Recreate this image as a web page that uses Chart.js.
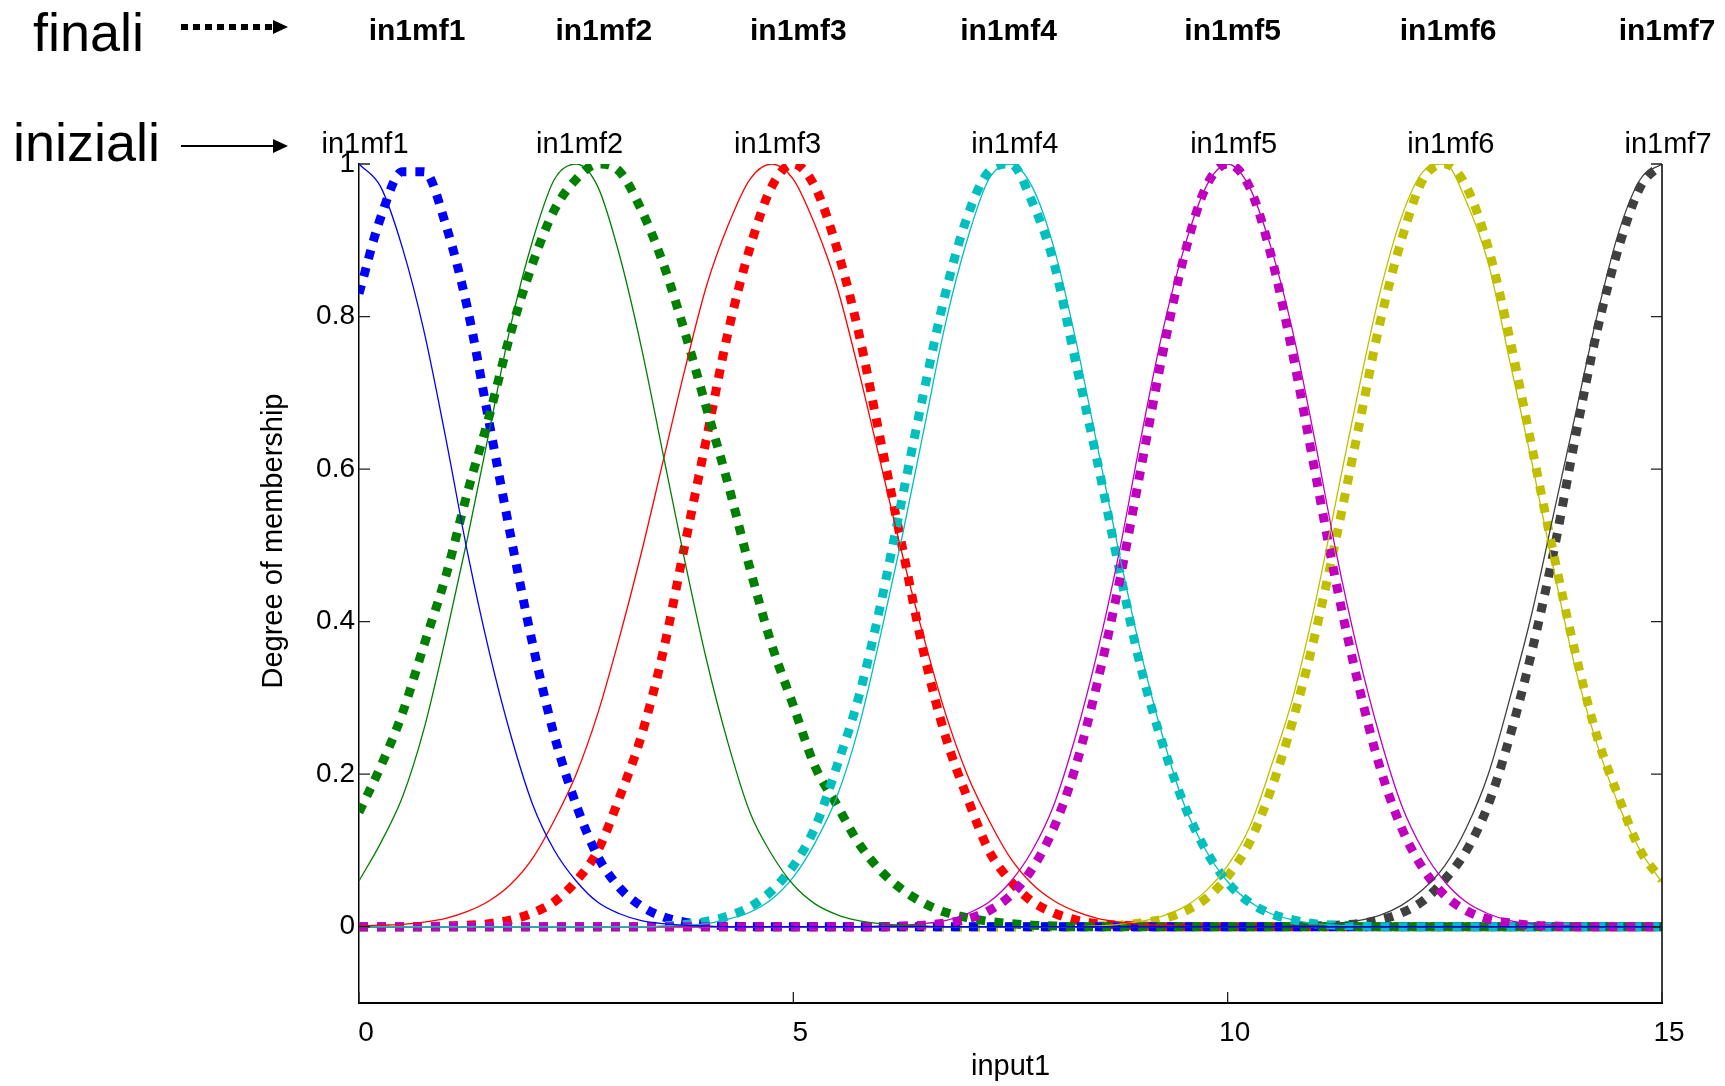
<!DOCTYPE html>
<html lang="it">
<head>
<meta charset="utf-8">
<title>in1mf iniziali / finali</title>
<script src="https://cdn.jsdelivr.net/npm/chart.js@4.4.1/dist/chart.umd.min.js"></script>
<style>
    html, body { margin: 0; padding: 0; background: #fff; }
    #wrap { width: 1725px; height: 1086px; }
</style>
</head>
<body>
<div id="wrap"><canvas id="mfChart" width="1725" height="1086"></canvas></div>
<script>
/* ==============================================
   DATI
   ============================================== */
const inputX = [0, 0.25, 0.5, 0.75, 1, 1.25, 1.5, 1.75, 2, 2.25, 2.5, 2.75, 3, 3.25, 3.5, 3.75,
    4, 4.25, 4.5, 4.75, 5, 5.25, 5.5, 5.75, 6, 6.25, 6.5, 6.75, 7, 7.25, 7.5, 7.75,
    8, 8.25, 8.5, 8.75, 9, 9.25, 9.5, 9.75, 10, 10.25, 10.5, 10.75, 11, 11.25, 11.5, 11.75,
    12, 12.25, 12.5, 12.75, 13, 13.25, 13.5, 13.75, 14, 14.25, 14.5, 14.75, 15];

// funzioni di appartenenza iniziali (linea continua)
const init1 = [1.00, 0.97, 0.89, 0.78, 0.64, 0.49, 0.36, 0.25, 0.16, 0.10, 0.06, 0.032, 0.017, 0.008, 0.004, 0.002,
    0.001, 0, 0, 0, 0, 0, 0, 0, 0, 0, 0, 0, 0, 0, 0, 0,
    0, 0, 0, 0, 0, 0, 0, 0, 0, 0, 0, 0, 0, 0, 0, 0,
    0, 0, 0, 0, 0, 0, 0, 0, 0, 0, 0, 0, 0];
const init2 = [0.06, 0.11, 0.17, 0.26, 0.38, 0.51, 0.65, 0.79, 0.90, 0.98, 1.00, 0.97, 0.88, 0.76, 0.62, 0.48,
    0.35, 0.24, 0.15, 0.095, 0.055, 0.030, 0.016, 0.008, 0.004, 0.002, 0.001, 0, 0, 0, 0, 0,
    0, 0, 0, 0, 0, 0, 0, 0, 0, 0, 0, 0, 0, 0, 0, 0,
    0, 0, 0, 0, 0, 0, 0, 0, 0, 0, 0, 0, 0];
const init3 = [0.001, 0.002, 0.003, 0.006, 0.011, 0.020, 0.034, 0.056, 0.09, 0.14, 0.20, 0.28, 0.38, 0.49, 0.61, 0.73,
    0.84, 0.92, 0.98, 1.00, 0.98, 0.92, 0.84, 0.73, 0.61, 0.49, 0.38, 0.28, 0.20, 0.14, 0.09, 0.056,
    0.034, 0.020, 0.011, 0.006, 0.003, 0.002, 0.001, 0, 0, 0, 0, 0, 0, 0, 0, 0,
    0, 0, 0, 0, 0, 0, 0, 0, 0, 0, 0, 0, 0];
const init4 = [0, 0, 0, 0, 0, 0, 0, 0, 0, 0, 0, 0, 0, 0, 0.001, 0.002,
    0.004, 0.010, 0.019, 0.036, 0.065, 0.11, 0.17, 0.26, 0.38, 0.51, 0.65, 0.79, 0.90, 0.98, 1.00, 0.97,
    0.89, 0.77, 0.63, 0.49, 0.36, 0.25, 0.16, 0.10, 0.059, 0.033, 0.017, 0.009, 0.004, 0.002, 0.001, 0,
    0, 0, 0, 0, 0, 0, 0, 0, 0, 0, 0, 0, 0];
const init5 = [0, 0, 0, 0, 0, 0, 0, 0, 0, 0, 0, 0, 0, 0, 0, 0,
    0, 0, 0, 0, 0, 0, 0, 0, 0.001, 0.002, 0.004, 0.008, 0.017, 0.032, 0.059, 0.10,
    0.16, 0.25, 0.36, 0.49, 0.64, 0.78, 0.89, 0.97, 1.00, 0.97, 0.89, 0.78, 0.64, 0.49, 0.36, 0.25,
    0.16, 0.10, 0.059, 0.032, 0.017, 0.008, 0.004, 0.002, 0.001, 0, 0, 0, 0];
const init6 = [0, 0, 0, 0, 0, 0, 0, 0, 0, 0, 0, 0, 0, 0, 0, 0,
    0, 0, 0, 0, 0, 0, 0, 0, 0, 0, 0, 0, 0, 0, 0, 0,
    0, 0, 0.001, 0.003, 0.007, 0.014, 0.026, 0.047, 0.08, 0.13, 0.21, 0.30, 0.42, 0.56, 0.70, 0.83,
    0.93, 0.99, 1.00, 0.95, 0.87, 0.74, 0.61, 0.47, 0.34, 0.24, 0.16, 0.10, 0.058];
const init7 = [0, 0, 0, 0, 0, 0, 0, 0, 0, 0, 0, 0, 0, 0, 0, 0,
    0, 0, 0, 0, 0, 0, 0, 0, 0, 0, 0, 0, 0, 0, 0, 0,
    0, 0, 0, 0, 0, 0, 0, 0, 0, 0, 0, 0.001, 0.002, 0.004, 0.008, 0.015,
    0.028, 0.049, 0.08, 0.13, 0.20, 0.30, 0.41, 0.54, 0.67, 0.80, 0.91, 0.98, 1.00];

// funzioni di appartenenza finali (linea punteggiata)
const fin1 = [0.83, 0.93, 0.99, 0.99, 0.92, 0.81, 0.66, 0.51, 0.37, 0.25, 0.16, 0.092, 0.051, 0.027, 0.013, 0.006,
    0.003, 0.001, 0, 0, 0, 0, 0, 0, 0, 0, 0, 0, 0, 0, 0, 0,
    0, 0, 0, 0, 0, 0, 0, 0, 0, 0, 0, 0, 0, 0, 0, 0,
    0, 0, 0, 0, 0, 0, 0, 0, 0, 0, 0, 0, 0];
const fin2 = [0.15, 0.21, 0.28, 0.37, 0.46, 0.57, 0.67, 0.78, 0.87, 0.94, 0.98, 1.00, 0.99, 0.94, 0.87, 0.78,
    0.68, 0.58, 0.47, 0.37, 0.29, 0.21, 0.16, 0.11, 0.074, 0.049, 0.031, 0.019, 0.012, 0.007, 0.004, 0.002,
    0.001, 0, 0, 0, 0, 0, 0, 0, 0, 0, 0, 0, 0, 0, 0, 0,
    0, 0, 0, 0, 0, 0, 0, 0, 0, 0, 0, 0, 0];
const fin3 = [0, 0, 0, 0, 0.001, 0.002, 0.004, 0.009, 0.018, 0.033, 0.06, 0.10, 0.17, 0.25, 0.36, 0.50,
    0.64, 0.78, 0.89, 0.97, 1.00, 0.97, 0.89, 0.78, 0.64, 0.50, 0.36, 0.25, 0.17, 0.10, 0.06, 0.033,
    0.018, 0.009, 0.004, 0.002, 0.001, 0, 0, 0, 0, 0, 0, 0, 0, 0, 0, 0,
    0, 0, 0, 0, 0, 0, 0, 0, 0, 0, 0, 0, 0];
const fin4 = [0, 0, 0, 0, 0, 0, 0, 0, 0, 0, 0, 0, 0, 0, 0.001, 0.003,
    0.007, 0.014, 0.026, 0.047, 0.08, 0.13, 0.21, 0.30, 0.42, 0.56, 0.70, 0.83, 0.93, 0.99, 1.00, 0.95,
    0.87, 0.74, 0.61, 0.47, 0.34, 0.24, 0.16, 0.10, 0.058, 0.032, 0.017, 0.009, 0.004, 0.002, 0.001, 0,
    0, 0, 0, 0, 0, 0, 0, 0, 0, 0, 0, 0, 0];
const fin5 = [0, 0, 0, 0, 0, 0, 0, 0, 0, 0, 0, 0, 0, 0, 0, 0,
    0, 0, 0, 0, 0, 0, 0, 0, 0, 0.001, 0.002, 0.005, 0.010, 0.021, 0.041, 0.076,
    0.13, 0.21, 0.32, 0.45, 0.60, 0.75, 0.88, 0.97, 1.00, 0.97, 0.88, 0.75, 0.60, 0.45, 0.32, 0.21,
    0.13, 0.076, 0.041, 0.021, 0.010, 0.005, 0.002, 0.001, 0, 0, 0, 0, 0];
const fin6 = [0, 0, 0, 0, 0, 0, 0, 0, 0, 0, 0, 0, 0, 0, 0, 0,
    0, 0, 0, 0, 0, 0, 0, 0, 0, 0, 0, 0, 0, 0, 0, 0,
    0, 0, 0.001, 0.002, 0.005, 0.010, 0.020, 0.037, 0.066, 0.11, 0.18, 0.27, 0.38, 0.51, 0.65, 0.79,
    0.90, 0.98, 1.00, 0.97, 0.89, 0.77, 0.63, 0.49, 0.36, 0.25, 0.17, 0.10, 0.061];
const fin7 = [0, 0, 0, 0, 0, 0, 0, 0, 0, 0, 0, 0, 0, 0, 0, 0,
    0, 0, 0, 0, 0, 0, 0, 0, 0, 0, 0, 0, 0, 0, 0, 0,
    0, 0, 0, 0, 0, 0, 0, 0, 0, 0, 0, 0, 0.001, 0.002, 0.004, 0.009,
    0.018, 0.034, 0.062, 0.10, 0.16, 0.25, 0.36, 0.49, 0.64, 0.78, 0.89, 0.97, 1.00];

const mfNames = ['in1mf1', 'in1mf2', 'in1mf3', 'in1mf4', 'in1mf5', 'in1mf6', 'in1mf7'];
const initialPeaks = [0, 2.47, 4.75, 7.48, 10, 12.5, 15];
const finalPeaks = [0.61, 2.76, 5, 7.42, 10, 12.48, 15];
const xTicks = [0, 5, 10, 15];
const yTicks = [0, 0.2, 0.4, 0.6, 0.8, 1];
const yTickLabels = ['0', '0.2', '0.4', '0.6', '0.8', '1'];

const initialSeries = [init1, init2, init3, init4, init5, init6, init7];
const finalSeries = [fin1, fin2, fin3, fin4, fin5, fin6, fin7];
const mfColors = ['#0000ff', '#008000', '#ff0000', '#00bfbf', '#bf00bf', '#bfbf00', '#404040'];
// ordine di sovrapposizione delle finali (prima = sopra)
const finalStack = [4, 3, 1, 0, 2, 5, 6];

const FONT = '"Liberation Sans", Arial, Helvetica, sans-serif';

/* ==============================================
   DATASET
   ============================================== */
function toPoints(values) {
    return values.map((v, i) => ({ x: inputX[i], y: v }));
}

// indice più basso = disegnato sopra: prima le iniziali
const datasets = [];
initialSeries.forEach((serie, i) => {
    datasets.push({
        label: mfNames[i] + ' iniziale',
        data: toPoints(serie),
        borderColor: mfColors[i],
        borderWidth: 1.3,
        pointRadius: 0,
        cubicInterpolationMode: 'monotone'
    });
});
finalStack.forEach(i => {
    datasets.push({
        label: mfNames[i] + ' finale',
        data: toPoints(finalSeries[i]),
        borderColor: mfColors[i],
        borderWidth: 9,
        borderDash: [9, 9],
        borderCapStyle: 'butt',
        pointRadius: 0,
        cubicInterpolationMode: 'monotone'
    });
});

/* ==============================================
   PLUGIN: tacche interne, asse destro, etichette, frecce
   ============================================== */
function drawArrow(ctx, x0, x1, y, dotted) {
    ctx.save();
    ctx.strokeStyle = '#000';
    ctx.fillStyle = '#000';
    if (dotted) {
        ctx.lineWidth = 6;
        ctx.setLineDash([7, 5]);
    } else {
        ctx.lineWidth = 2;
    }
    ctx.beginPath();
    ctx.moveTo(x0, y);
    ctx.lineTo(x1 - 15, y);
    ctx.stroke();
    ctx.setLineDash([]);
    ctx.beginPath();
    ctx.moveTo(x1 - 15, y - 7);
    ctx.lineTo(x1, y);
    ctx.lineTo(x1 - 15, y + 7);
    ctx.closePath();
    ctx.fill();
    ctx.restore();
}

const decorazioni = {
    id: 'decorazioni',
    afterDraw(chart) {
        const { ctx, chartArea: a, scales: { x, y } } = chart;
        ctx.save();

        // asse destro
        ctx.strokeStyle = '#000';
        ctx.lineWidth = 1.5;
        ctx.beginPath();
        ctx.moveTo(a.right, a.top);
        ctx.lineTo(a.right, a.bottom);
        ctx.stroke();

        // tacche verso l'interno
        ctx.strokeStyle = '#222';
        ctx.lineWidth = 1.3;
        ctx.beginPath();
        yTicks.forEach(v => {
            const py = y.getPixelForValue(v);
            ctx.moveTo(a.left, py); ctx.lineTo(a.left + 11, py);
            ctx.moveTo(a.right, py); ctx.lineTo(a.right - 11, py);
        });
        xTicks.forEach(v => {
            const px = x.getPixelForValue(v);
            ctx.moveTo(px, a.bottom); ctx.lineTo(px, a.bottom - 11);
        });
        ctx.stroke();

        // etichette delle funzioni
        ctx.fillStyle = '#000';
        ctx.textAlign = 'center';
        ctx.textBaseline = 'middle';
        ctx.font = 'bold 30px ' + FONT;
        mfNames.forEach((n, i) => ctx.fillText(n, x.getPixelForValue(finalPeaks[i]) + 5, 32));
        ctx.font = '29px ' + FONT;
        mfNames.forEach((n, i) => ctx.fillText(n, x.getPixelForValue(initialPeaks[i]) + 6, 145));

        // titolo asse y
        ctx.save();
        ctx.translate(274, 541);
        ctx.rotate(-Math.PI / 2);
        ctx.font = '29px ' + FONT;
        ctx.fillText('Degree of membership', 0, 0);
        ctx.restore();

        // legenda a mano
        ctx.textAlign = 'left';
        ctx.textBaseline = 'alphabetic';
        ctx.font = '54px ' + FONT;
        ctx.fillText('finali', 33, 51);
        ctx.fillText('iniziali', 13, 161);
        drawArrow(ctx, 181, 288, 27, true);
        drawArrow(ctx, 181, 288, 146, false);

        ctx.restore();
    }
};

/* ==============================================
   GRAFICO
   ============================================== */
new Chart(document.getElementById('mfChart'), {
    type: 'line',
    data: { datasets },
    options: {
        responsive: false,
        animation: false,
        layout: { padding: { left: 0, top: 164, right: 63, bottom: 0 } },
        plugins: { legend: { display: false }, tooltip: { enabled: false } },
        scales: {
            x: {
                type: 'linear',
                min: 0,
                max: 15,
                afterFit: s => { s.height = 83; },
                afterBuildTicks: s => { s.ticks = xTicks.map(v => ({ value: v })); },
                grid: { display: false, drawTicks: false },
                border: { display: true, color: '#000', width: 2 },
                ticks: { color: '#000', padding: 13, labelOffset: 7, font: { family: FONT, size: 28 } },
                title: { display: true, text: 'input1', color: '#000', padding: { top: 0, bottom: 2 }, font: { family: FONT, size: 29 } }
            },
            y: {
                type: 'linear',
                min: -0.1,
                max: 1,
                afterFit: s => { s.width = 359; },
                afterBuildTicks: s => { s.ticks = yTicks.map(v => ({ value: v })); },
                grid: { display: false, drawTicks: false },
                border: { display: true, color: '#000', width: 1.5 },
                ticks: {
                    color: '#000',
                    padding: 4,
                    font: { family: FONT, size: 28 },
                    callback: (v, i) => yTickLabels[i]
                }
            }
        }
    },
    plugins: [decorazioni]
});
</script>
</body>
</html>
